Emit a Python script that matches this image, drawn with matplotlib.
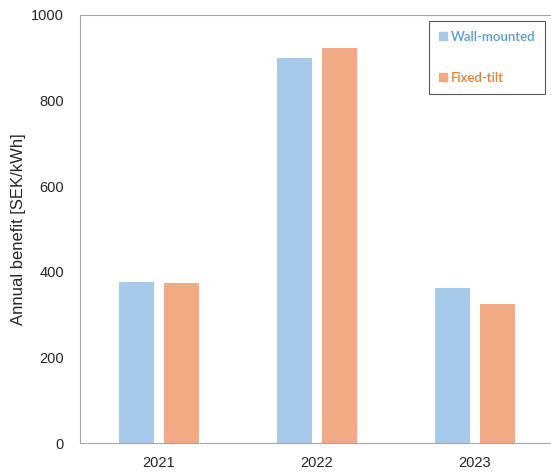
import matplotlib.pyplot as plt
import numpy as np
from matplotlib.patches import Patch

years = ['2021', '2022', '2023']
wall_mounted = [376, 899, 363]
fixed_tilt = [373, 922, 324]

col_wall = '#a7c9ea'
col_fixed = '#f2aa84'
txt_wall = '#5b9bd5'
txt_fixed = '#ed7d31'

plt.rcParams['font.family'] = ['Liberation Sans', 'DejaVu Sans']

fig = plt.figure(figsize=(5.51, 4.73), dpi=100)
ax = fig.add_axes([80 / 551, 30 / 473, 471 / 551, 428 / 473])

x = np.arange(len(years))
w = 0.223
off = 0.142
ax.bar(x - off, wall_mounted, w, color=col_wall, label='Wall-mounted')
ax.bar(x + off, fixed_tilt, w, color=col_fixed, label='Fixed-tilt')

ax.set_xlim(-0.5, -0.5 + 471 / 158)
ax.set_ylim(0, 1000)
ax.set_xticks(x)
ax.set_xticklabels(years)
ax.set_yticks(range(0, 1001, 200))
ax.tick_params(axis='both', length=0, labelsize=10.5, colors='#262626')
ax.tick_params(axis='y', pad=11.5)
ax.tick_params(axis='x', pad=9)
ax.set_ylabel('Annual benefit [SEK/kWh]', fontsize=12, color='#262626', labelpad=4)

for s in ['left', 'bottom', 'top']:
    ax.spines[s].set_color('#a6a6a6')
ax.spines['right'].set_visible(False)

handles = [Patch(color=col_wall), Patch(color=col_fixed)]
leg = ax.legend(handles, ['Wall-mounted', 'Fixed-tilt'],
                loc='upper right', bbox_to_anchor=(545 / 551, 1 - 21 / 473),
                bbox_transform=fig.transFigure, borderaxespad=0, fancybox=False,
                edgecolor='#595959', framealpha=1, handlelength=0.55,
                handleheight=0.55, handletextpad=0.3, labelspacing=2.2,
                borderpad=0.75,
                prop={'family': 'Lato', 'size': 9.5, 'weight': 'semibold'})
leg.get_frame().set_linewidth(0.8)
leg.get_texts()[0].set_color(txt_wall)
leg.get_texts()[1].set_color(txt_fixed)

fig.savefig('out.png', dpi=100)
